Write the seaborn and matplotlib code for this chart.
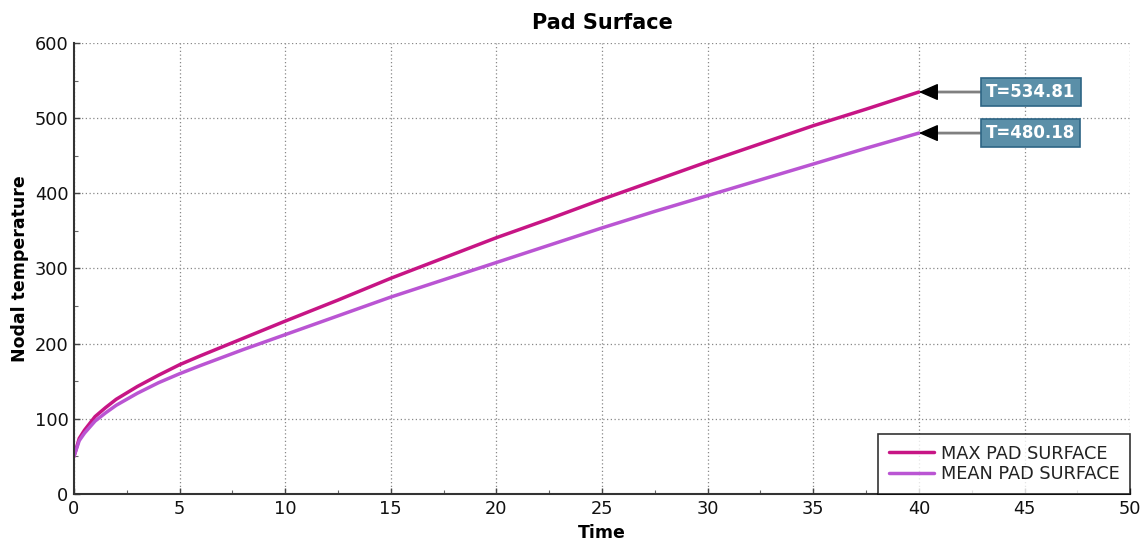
import pandas as pd
import seaborn as sns
import matplotlib.pyplot as plt
from matplotlib.ticker import MultipleLocator

# === Data ===
time = [0, 0.25, 0.5, 1, 1.5, 2, 3, 4, 5, 6, 8, 10, 12.5, 15, 17.5,
        20, 22.5, 25, 27.5, 30, 32.5, 35, 37.5, 40]
max_pad = [50, 74, 85, 103, 115, 126, 143, 158, 172, 184, 207, 230, 258, 287, 314,
           341, 366, 392, 417, 442, 466, 490, 512, 534.81]
mean_pad = [50, 71, 81, 97, 108, 118, 134, 148, 160, 171, 192, 212, 237, 262, 285,
            308, 331, 354, 376, 397, 418, 439, 460, 480.18]
series_names = ["MAX PAD SURFACE", "MEAN PAD SURFACE"]
series_colors = ["#C71585", "#BA55D3"]

df = pd.DataFrame({
    "Time": time * 2,
    "Nodal temperature": max_pad + mean_pad,
    "Series": [series_names[0]] * len(time) + [series_names[1]] * len(time),
})

# === Style ===
sns.set_theme(style="white")
plt.rcParams["font.family"] = ["DejaVu Sans"]

fig = plt.figure(figsize=(11.45, 5.41), dpi=100)
ax = fig.add_axes([0.0646, 0.0869, 0.9224, 0.8336])

sns.lineplot(data=df, x="Time", y="Nodal temperature", hue="Series",
             palette=dict(zip(series_names, series_colors)), linewidth=2.5, ax=ax)

ax.set_xlim(0, 50)
ax.set_ylim(0, 600)
ax.xaxis.set_major_locator(MultipleLocator(5))
ax.xaxis.set_minor_locator(MultipleLocator(2.5))
ax.yaxis.set_major_locator(MultipleLocator(100))
ax.yaxis.set_minor_locator(MultipleLocator(50))
ax.tick_params(which="major", direction="in", length=4, width=1, labelsize=12.8,
               labelcolor="#111111", color="#444444", pad=4, bottom=True, left=True)
ax.tick_params(which="minor", direction="in", length=3, width=0.8,
               color="#666666", bottom=True, left=True)
ax.grid(True, which="major", linestyle=(0, (1, 2)), color="#888888", linewidth=0.9)

for side in ["top", "right"]:
    ax.spines[side].set_visible(False)
for side in ["left", "bottom"]:
    ax.spines[side].set_color("#333333")
    ax.spines[side].set_linewidth(1.5)

ax.set_title("Pad Surface", fontsize=15, fontweight="bold", color="black", pad=10)
ax.set_xlabel("Time", fontsize=12.5, fontweight="bold", color="black", labelpad=5)
ax.set_ylabel("Nodal temperature", fontsize=12.5, fontweight="bold", color="black",
              labelpad=4)

# === Annotations for final values ===
for vals in [max_pad, mean_pad]:
    # gray shaft from the label box to the arrow head
    ax.annotate(f"T={vals[-1]:.2f}", xy=(40.6, vals[-1]), xytext=(45.3, vals[-1]),
                ha="center", va="center", color="white", fontsize=12, fontweight="bold",
                bbox=dict(boxstyle="square,pad=0.3", fc="#5B8FA8", ec="#2E6585", lw=1.2),
                arrowprops=dict(arrowstyle="-", color="#808080", lw=2,
                                shrinkA=0, shrinkB=0))
    # black arrow head at the last point
    ax.annotate("", xy=(time[-1], vals[-1]), xytext=(40.65, vals[-1]),
                arrowprops=dict(arrowstyle="-|>,head_length=0.8,head_width=0.35",
                                fc="black", ec="black", lw=1,
                                mutation_scale=15, shrinkA=0, shrinkB=0))

leg = ax.legend(loc="lower right", fontsize=12.8, frameon=True, fancybox=False,
                borderaxespad=0, handlelength=2.5, borderpad=0.6, labelspacing=0.15,
                handletextpad=0.4)
leg.get_frame().set_edgecolor("black")
leg.get_frame().set_linewidth(1.2)
leg.set_title(None)
for txt in leg.get_texts():
    txt.set_color("#222222")

plt.savefig("out.png", dpi=100)
